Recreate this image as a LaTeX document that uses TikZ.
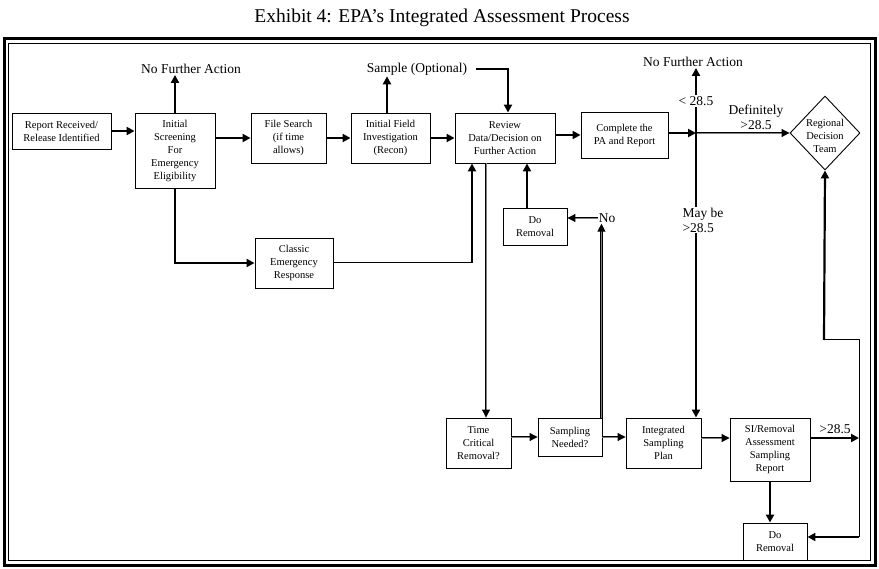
\documentclass[tikz,border=0pt]{standalone}
\usepackage{fontspec}
\setmainfont{Liberation Serif}
\usetikzlibrary{arrows.meta,shapes.geometric,calc}
\begin{document}
\begin{tikzpicture}[x=1pt,y=-1pt,
  box/.style={draw,line width=0.9pt,inner sep=1pt,align=center,font=\fontsize{10.5}{13}\selectfont},
  lbl/.style={inner sep=1pt,font=\fontsize{13.5}{15}\selectfont},
  arr/.style={line width=2.2pt,-{Triangle[length=8pt,width=8pt]}},
  dbl/.style={line width=1pt,double=black!50,double distance=0.7pt,-{Triangle[length=8pt,width=8pt]}},
  thinln/.style={line width=1pt}]
\useasboundingbox (0,0) rectangle (879,569);
\node[font=\fontsize{19.5}{21}\selectfont] (title) at (442,18) {Exhibit 4: EPA’s Integrated Assessment Process};
\draw[line width=3pt] (4,39) rectangle (875,565);
\draw[line width=0.8pt] (8.5,43.5) rectangle (870.5,560.5);
% boxes
\node[box,minimum width=99pt,minimum height=36pt] (rep) at (61.5,131) {Report Received/\\Release Identified};
\node[box,minimum width=80pt,minimum height=75pt] (scr) at (175,150.5) {Initial\\Screening\\For\\Emergency\\Eligibility};
\node[box,minimum width=75pt,minimum height=50pt] (fs) at (288.5,138) {File Search\\(if time\\allows)};
\node[box,minimum width=79pt,minimum height=50pt] (fi) at (390.5,138) {Initial Field\\Investigation\\(Recon)};
\node[box,minimum width=100pt,minimum height=50pt] (rev) at (505,138) {Review\\Data/Decision on\\Further Action};
\node[box,minimum width=87pt,minimum height=46pt] (cpa) at (624.5,135) {Complete the\\PA and Report};
\node[box,diamond,minimum width=70pt,minimum height=74pt,inner sep=0pt,
  label={[yshift=-3pt,align=center,font=\fontsize{10.5}{13}\selectfont]center:Regional\\Decision\\Team}] (rdt) at (825,133) {};
\node[box,minimum width=78pt,minimum height=50pt] (cer) at (294,263) {Classic\\Emergency\\Response};
\node[box,minimum width=64pt,minimum height=37pt] (dr1) at (535,226.5) {Do\\Removal};
\node[box,minimum width=65pt,minimum height=50pt] (tcr) at (478.5,443) {Time\\Critical\\Removal?};
\node[box,minimum width=64pt,minimum height=38pt] (sn) at (570,437) {Sampling\\Needed?};
\node[box,minimum width=75pt,minimum height=50pt] (isp) at (663.5,443) {Integrated\\Sampling\\Plan};
\node[box,minimum width=80pt,minimum height=63pt] (si) at (770,449.5) {SI/Removal\\Assessment\\Sampling\\Report};
\node[box,minimum width=64pt,minimum height=37pt] (dr2) at (775,541.5) {Do\\Removal};
% labels
\node[lbl] (nfa1) at (191,69) {No Further Action};
\node[lbl] (samp) at (417,69) {Sample (Optional)};
\node[lbl] (nfa2) at (693,62) {No Further Action};
\node[lbl,fill=white] (lt) at (696,101) {< 28.5};
\node[lbl,align=center] (def) at (756,117) {Definitely\\>28.5};
\node[lbl,fill=white,align=left] (maybe) at (703,220) {May be\\>28.5};
\node[lbl] (gt) at (835,429) {>28.5};
\node[lbl] (no) at (607,218) {No};
\coordinate (J) at (696,133);
\coordinate (K) at (859,438);
\coordinate (c1) at (472,263);
% connectors
\draw[arr] (rep.east) -- (rep.east -| scr.west);
\draw[arr] (scr.east |- fs.west) -- (fs.west);
\draw[arr] (fs.east) -- (fi.west);
\draw[arr] (fi.east) -- (rev.west);
\draw[arr] (rev.east |- cpa.west) -- (cpa.west);
\draw[arr] (scr.north) -- (scr.north |- nfa1.south);
\draw[arr] ([xshift=-3.5pt]fi.north) -- ([xshift=-3.5pt]fi.north |- samp.south);
\draw[arr,shorten <=8pt] (samp.east) -| ([xshift=3pt]rev.north);
\draw[arr] (scr.south) |- (cer.west);
\draw[thinln] (cer.east) -- (c1);
\draw[arr] (c1) -- (c1 |- rev.south);
\draw[dbl] ([xshift=-19pt]rev.south) -- ([xshift=-19pt]rev.south |- tcr.north);
\draw[arr] ([xshift=-8pt]dr1.north) -- ([xshift=-8pt]dr1.north |- rev.south);
\draw[dbl] (no.west) -- (no.west -| dr1.east);
\draw[dbl] ([xshift=-1pt]sn.north east) -- ([xshift=-1pt]sn.north east |- no.south);
\draw[dbl] (tcr.east |- sn.west) -- (sn.west);
\draw[dbl] (sn.east) -- (sn.east -| isp.west);
\draw[dbl] (isp.east |- 0,438) -- (si.west |- 0,438);
\draw[dbl] (J) -- (rdt.west);
\draw[arr] (cpa.east |- J) -- (J);
\draw[arr] (lt.north) -- (lt.north |- nfa2.south);
\draw[arr,-] (lt.south) -- (lt.south |- maybe.north);
\draw[arr] (maybe.south -| J) -- (J |- isp.north);
\draw[arr] (si.east |- K) -- (K);
\draw[arr] (si.south) -- (si.south |- dr2.north);
\draw[thinln] (K) -- (859,340) -- (824,340);
\draw[arr] (824,340) -- (rdt.south);
\draw[thinln] (K) -- (859,537);
\draw[arr] (859,537) -- (859,537 -| dr2.east);
\end{tikzpicture}
\end{document}
